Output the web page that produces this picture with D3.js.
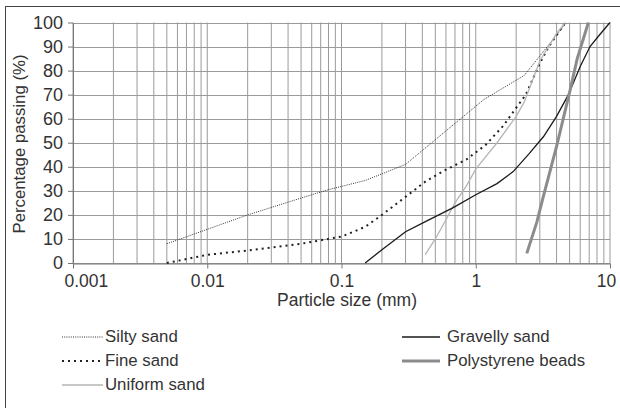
<!DOCTYPE html>
<html lang="en">
<head>
<meta charset="UTF-8">
<title>Particle size distribution</title>
<style>
    body { margin: 0; background: #fff; }
    svg { display: block; font-family: "Liberation Sans", Arial, sans-serif; }
    .tick text { fill: #333; }
</style>
</head>
<body>
<svg id="chart" width="620" height="408"></svg>
<script src="https://d3js.org/d3.v7.min.js"></script>
<script>
// data: [particle size (mm), % passing]
const siltySand = [[0.005, 8], [0.01, 14], [0.02, 20], [0.05, 27], [0.08, 30.5], [0.15, 34.3],
    [0.3, 41], [1.15, 68], [2.3, 78], [4.75, 100]];
const fineSand = [[0.005, 0], [0.01, 3.4], [0.02, 5.2], [0.05, 8], [0.1, 11], [0.15, 15], [0.2, 20],
    [0.3, 27.5], [0.425, 34], [0.6, 38.8], [0.85, 43], [1.18, 49], [1.6, 57], [2.0, 64.5],
    [2.36, 70], [3.0, 83], [3.5, 90], [4.65, 100]];
const uniformSand = [[0.42, 3.5], [0.5, 10], [0.6, 18], [0.7, 25], [0.85, 32], [1.0, 39],
    [1.44, 50], [2.0, 61], [2.3, 67], [3.0, 84], [4.0, 95.5], [4.65, 100]];
const gravellySand = [[0.15, 0], [0.2, 5.5], [0.3, 13], [0.425, 17.3], [0.68, 23], [1.0, 28.4],
    [1.44, 33], [1.9, 38], [2.5, 45.5], [3.2, 52.6], [4.0, 61], [4.9, 70], [6.0, 81.7],
    [7.1, 90], [8.4, 95], [10, 100]];
const polystyreneBeads = [[2.4, 4], [2.85, 17], [3.2, 28], [4.0, 48.5], [5.05, 72], [5.7, 85], [6.9, 100]];

const xMajorTicks = [0.001, 0.01, 0.1, 1, 10];
const xTickLabels = ["0.001", "0.01", "0.1", "1", "10"];
const yTicks = [0, 10, 20, 30, 40, 50, 60, 70, 80, 90, 100];

const seriesNames = ["Silty sand", "Fine sand", "Uniform sand", "Gravelly sand", "Polystyrene beads"];
const seriesData = [siltySand, fineSand, uniformSand, gravellySand, polystyreneBeads];
const seriesStyle = [
    { color: "#333", width: 1, dash: "1,1.2" },
    { color: "#222", width: 2, dash: "2,4" },
    { color: "#b5b5b5", width: 1.3, dash: null },
    { color: "#1a1a1a", width: 1.3, dash: null },
    { color: "#8c8c8c", width: 3, dash: null }
];

const svg = d3.select("#chart");
const plotLeft = 73, plotRight = 610, plotTop = 22.5, plotBottom = 263;

const x = d3.scaleLog().domain([0.001, 10]).range([plotLeft, plotRight]);
const y = d3.scaleLinear().domain([0, 100]).range([plotBottom, plotTop]);

// outer chart border (runs off the picture on the right and bottom)
svg.append("rect")
    .attr("x", 5.5).attr("y", 6.5)
    .attr("width", 640).attr("height", 420)
    .attr("fill", "none").attr("stroke", "#444").attr("stroke-width", 1);

// grid
const grid = svg.append("g").attr("stroke", "#9a9a9a").attr("stroke-width", 1);
grid.selectAll("line.v").data(x.ticks())
    .join("line").attr("class", "v")
    .attr("x1", d => x(d)).attr("x2", d => x(d))
    .attr("y1", plotTop).attr("y2", plotBottom);
grid.selectAll("line.h").data(yTicks)
    .join("line").attr("class", "h")
    .attr("x1", plotLeft).attr("x2", plotRight)
    .attr("y1", d => Math.round(y(d)) + 0.5).attr("y2", d => Math.round(y(d)) + 0.5);

// axes
const xAxis = svg.append("g")
    .attr("transform", `translate(0,${Math.round(plotBottom) + 0.5})`)
    .call(d3.axisBottom(x).tickValues(xMajorTicks)
        .tickFormat((d, i) => xTickLabels[i]).tickSize(5).tickSizeOuter(0).tickPadding(6));
xAxis.select(".domain").attr("stroke", "#777");
xAxis.selectAll(".tick line").attr("stroke", "#777");
xAxis.selectAll(".tick text").attr("font-size", 17.5);
// first label sits to the right of the axis, last one is pulled in from the edge
xAxis.selectAll(".tick text").filter((d, i) => i === 0).attr("text-anchor", "start").attr("x", -9);
xAxis.selectAll(".tick text").filter((d, i) => i === xMajorTicks.length - 1).attr("dx", -4);

const yAxis = svg.append("g")
    .attr("transform", `translate(${plotLeft},0)`)
    .call(d3.axisLeft(y).tickValues(yTicks).tickSize(5).tickSizeOuter(0).tickPadding(5));
yAxis.select(".domain").attr("stroke", "#777");
yAxis.selectAll(".tick line").attr("stroke", "#777");
yAxis.selectAll(".tick text").attr("font-size", 18);

// axis titles
svg.append("text")
    .attr("x", 347).attr("y", 306)
    .attr("text-anchor", "middle")
    .attr("font-size", 17.5).attr("fill", "#333")
    .text("Particle size (mm)");
svg.append("text")
    .attr("transform", "translate(25,144) rotate(-90)")
    .attr("text-anchor", "middle")
    .attr("font-size", 16.8).attr("fill", "#333")
    .text("Percentage passing (%)");

// series
const line = d3.line().x(d => x(d[0])).y(d => y(d[1]));
svg.append("g").selectAll("path")
    .data(seriesData)
    .join("path")
    .attr("d", line)
    .attr("fill", "none")
    .attr("stroke", (d, i) => seriesStyle[i].color)
    .attr("stroke-width", (d, i) => seriesStyle[i].width)
    .attr("stroke-dasharray", (d, i) => seriesStyle[i].dash);

// legend
const legendPos = [[62, 337], [62, 361], [62, 385], [402, 337], [402, 361]];
const legend = svg.append("g").selectAll("g")
    .data(seriesNames)
    .join("g")
    .attr("transform", (d, i) => `translate(${legendPos[i][0]},${legendPos[i][1]})`);
legend.append("line")
    .attr("x1", 0).attr("x2", (d, i) => i < 3 ? 41 : 38)
    .attr("y1", 0).attr("y2", 0)
    .attr("stroke", (d, i) => seriesStyle[i].color)
    .attr("stroke-width", (d, i) => seriesStyle[i].width)
    .attr("stroke-dasharray", (d, i) => seriesStyle[i].dash);
legend.append("text")
    .attr("x", (d, i) => i < 3 ? 43 : 45)
    .attr("y", 5)
    .attr("font-size", 16.8).attr("fill", "#333")
    .text(d => d);
</script>
</body>
</html>
